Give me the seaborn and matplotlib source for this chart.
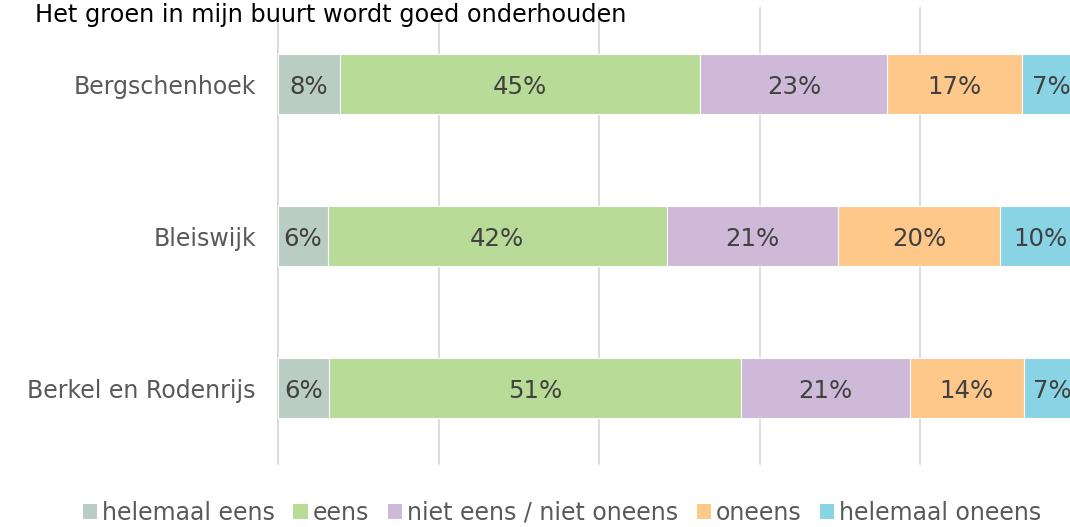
import numpy as np
import pandas as pd
import matplotlib
matplotlib.use("Agg")
import matplotlib.pyplot as plt
from matplotlib.patches import Patch
import seaborn as sns

# data (percentages)
places = ["Bergschenhoek", "Bleiswijk", "Berkel en Rodenrijs"]
answers = ["helemaal eens", "eens", "niet eens / niet oneens", "oneens", "helemaal oneens"]
helemaal_eens = [7.7, 6.2, 6.4]
eens = [44.9, 42.2, 51.2]
neutraal = [23.3, 21.4, 21.1]
oneens = [16.7, 20.1, 14.2]
helemaal_oneens = [7.4, 10.1, 7.1]
colors = ["#BACDC4", "#B8DB97", "#CFB9D8", "#FEC88B", "#88D3E4"]
title = "Het groen in mijn buurt wordt goed onderhouden"

df = pd.DataFrame(
    [helemaal_eens, eens, neutraal, oneens, helemaal_oneens],
    index=answers, columns=places,
).T
cum = df.cumsum(axis=1)

sns.set_theme(style="white")
plt.rcParams["font.family"] = ["DejaVu Sans"]

fig = plt.figure(figsize=(10.7, 5.27), dpi=100)
W, H = 1070, 527
ax = fig.add_axes([278 / W, 63 / H, (1081 - 278) / W, 456 / H])

# draw stacked bars: largest cumulative first, smaller ones on top
for i in reversed(range(len(answers))):
    d = pd.DataFrame({"place": places, "value": cum[answers[i]].values})
    sns.barplot(data=d, y="place", x="value", color=colors[i], orient="h",
                width=0.4, saturation=1, edgecolor="white", linewidth=0.8, ax=ax)

# segment labels
for r, p in enumerate(places):
    left = 0
    for a in answers:
        v = df.loc[p, a]
        ax.text(left + v / 2, r, f"{v:.0f}%", ha="center", va="center_baseline",
                fontsize=17.6, color="#404040")
        left += v

ax.set_xlim(0, 100)
ax.set_ylim(2.5, -0.5)
ax.set_xticks([0, 20, 40, 60, 80, 100])
ax.set_xticklabels([])
ax.xaxis.grid(True, color="#D9D9D9", linewidth=1.3)
for gl in ax.get_xgridlines():
    gl.set_clip_on(False)
ax.set_axisbelow(True)
for s in ax.spines.values():
    s.set_visible(False)
ax.set_xlabel("")
ax.set_ylabel("")
ax.tick_params(axis="y", length=0, pad=16, labelsize=17, labelcolor="#595959")
ax.tick_params(axis="x", length=0)

fig.text(35 / W, 1 - 15 / H, title, ha="left", va="center", fontsize=17.3, color="black")

handles = [Patch(facecolor=c, edgecolor="none") for c in colors]
fig.legend(handles, answers, loc="center", bbox_to_anchor=(562 / W, 14 / H), ncol=5,
           frameon=False, fontsize=17, handlelength=0.6, handleheight=0.6,
           handletextpad=0.2, columnspacing=0.8, labelcolor="#595959")

fig.savefig("out.png", dpi=100)
